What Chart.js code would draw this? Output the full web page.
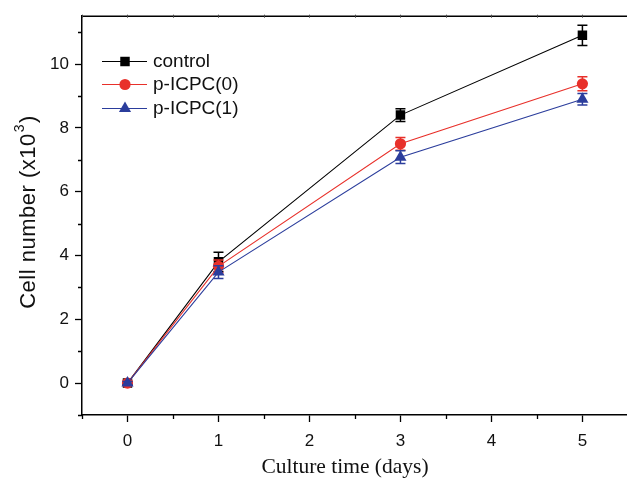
<!DOCTYPE html>
<html>
<head>
<meta charset="utf-8">
<script src="https://cdn.jsdelivr.net/npm/chart.js@4/dist/chart.umd.min.js"></script>
<style>
html,body{margin:0;padding:0;background:#fff;}
#wrap{width:627px;height:479px;position:relative;}
</style>
</head>
<body>
<div id="wrap"><canvas id="c" width="627" height="479"></canvas></div>
<script>
// ---- data ----
const days = [0, 1, 3, 5];
const controlVals = [0, 3.8, 8.4, 10.9];
const controlErr  = [0.05, 0.3, 0.2, 0.32];
const icpc0Vals   = [0, 3.66, 7.5, 9.38];
const icpc0Err    = [0.05, 0.2, 0.2, 0.22];
const icpc1Vals   = [0, 3.48, 7.08, 8.9];
const icpc1Err    = [0.05, 0.2, 0.2, 0.18];
const seriesNames = ['control', 'p-ICPC(0)', 'p-ICPC(1)'];
const xMajorTicks = [0, 1, 2, 3, 4, 5];
const xMinorTicks = [-0.5, 0.5, 1.5, 2.5, 3.5, 4.5, 5.5];
const yMajorTicks = [0, 2, 4, 6, 8, 10];
const yMinorTicks = [-1, 1, 3, 5, 7, 9, 11];
const xTitle = 'Culture time (days)';
const yTitleMain = 'Cell number (x10';
const yTitleSup = '3';
const yTitleEnd = ')';

const colors = ['#000000', '#e8302a', '#2b3d9c'];
const styles = ['rect', 'circle', 'triangle'];
const radii = [6.7, 5.6, 7];
const allVals = [controlVals, icpc0Vals, icpc1Vals];
const allErr = [controlErr, icpc0Err, icpc1Err];

const datasets = allVals.map((vals, i) => ({
  label: seriesNames[i],
  data: days.map((d, k) => ({x: d, y: vals[k]})),
  errors: allErr[i],
  borderColor: colors[i],
  backgroundColor: colors[i],
  borderWidth: 1.1,
  pointStyle: styles[i],
  pointRadius: radii[i],
  pointBorderWidth: 0,
  pointBackgroundColor: colors[i],
  order: 3 - i,
  tension: 0
}));

function drawMarker(ctx, style, x, y, r, color) {
  ctx.save();
  ctx.fillStyle = color;
  ctx.beginPath();
  if (style === 'rect') {
    const s = Math.SQRT1_2 * r;
    ctx.rect(x - s, y - s, 2 * s, 2 * s);
  } else if (style === 'circle') {
    ctx.arc(x, y, r, 0, Math.PI * 2);
  } else {
    ctx.moveTo(x, y - r);
    ctx.lineTo(x + r * Math.sin(Math.PI * 2 / 3), y - r * Math.cos(Math.PI * 2 / 3));
    ctx.lineTo(x - r * Math.sin(Math.PI * 2 / 3), y - r * Math.cos(Math.PI * 2 / 3));
    ctx.closePath();
  }
  ctx.fill();
  ctx.restore();
}

const extras = {
  id: 'extras',
  afterDatasetDraw(chart, args) {
    const ds = chart.data.datasets[args.index];
    const xs = chart.scales.x, ys = chart.scales.y;
    const ctx = chart.ctx;
    ctx.save();
    ctx.strokeStyle = ds.borderColor;
    ctx.lineWidth = 1.5;
    ds.data.forEach((p, k) => {
      const e = ds.errors[k];
      const px = xs.getPixelForValue(p.x);
      const top = ys.getPixelForValue(p.y + e);
      const bot = ys.getPixelForValue(p.y - e);
      ctx.beginPath();
      ctx.moveTo(px, top); ctx.lineTo(px, bot);
      ctx.moveTo(px - 5, top); ctx.lineTo(px + 5, top);
      ctx.moveTo(px - 5, bot); ctx.lineTo(px + 5, bot);
      ctx.stroke();
    });
    ctx.restore();
  },
  afterDraw(chart) {
    const ctx = chart.ctx;
    const a = chart.chartArea;
    const xs = chart.scales.x, ys = chart.scales.y;
    ctx.save();
    ctx.strokeStyle = '#000';
    ctx.lineWidth = 1.5;
    ctx.beginPath();
    ctx.moveTo(a.left, a.top); ctx.lineTo(a.right + 2, a.top);
    ctx.stroke();
    ctx.lineWidth = 1;
    ctx.strokeStyle = '#444';
    ctx.beginPath();
    xMajorTicks.concat(xMinorTicks).forEach(v => {
      const px = Math.round(xs.getPixelForValue(v)) + 0.5;
      ctx.moveTo(px, a.top - 1.5); ctx.lineTo(px, a.top + 1.5);
    });
    ctx.stroke();
    ctx.strokeStyle = '#000';
    ctx.lineWidth = 1.3;
    ctx.beginPath();
    xMinorTicks.forEach(v => {
      const px = Math.round(xs.getPixelForValue(v)) + 0.5;
      ctx.moveTo(px, a.bottom); ctx.lineTo(px, a.bottom + 4);
    });
    yMinorTicks.forEach(v => {
      const py = Math.round(ys.getPixelForValue(v)) + 0.5;
      ctx.moveTo(a.left, py); ctx.lineTo(a.left - 4, py);
    });
    ctx.stroke();
    // legend
    const lx0 = 102, lx1 = 147, mx = 125, tx = 153;
    const rows = [61, 84, 108];
    ctx.font = '19px "Liberation Sans", Arial, sans-serif';
    ctx.textBaseline = 'middle';
    ctx.textAlign = 'left';
    seriesNames.forEach((n, i) => {
      const y = rows[i];
      ctx.strokeStyle = colors[i];
      ctx.lineWidth = 1.2;
      ctx.beginPath();
      ctx.moveTo(lx0, y + 0.5); ctx.lineTo(lx1, y + 0.5);
      ctx.stroke();
      drawMarker(ctx, styles[i], mx, y + 0.5, radii[i], colors[i]);
      ctx.fillStyle = '#111';
      ctx.fillText(n, tx, y + 1);
    });
    // x title
    ctx.fillStyle = '#111';
    ctx.font = '21.5px "Liberation Serif", "Times New Roman", serif';
    ctx.textAlign = 'center';
    ctx.textBaseline = 'middle';
    ctx.fillText(xTitle, 345, 467);
    // y title with superscript
    ctx.save();
    ctx.translate(28, 212);
    ctx.rotate(-Math.PI / 2);
    const mainFont = '22px "Liberation Sans", Arial, sans-serif';
    const supFont = '14px "Liberation Sans", Arial, sans-serif';
    ctx.letterSpacing = '0.5px';
    ctx.font = mainFont;
    const w1 = ctx.measureText(yTitleMain).width;
    const w3 = ctx.measureText(yTitleEnd).width;
    ctx.font = supFont;
    const w2 = ctx.measureText(yTitleSup).width;
    const total = w1 + w2 + w3 + 2;
    let x = -total / 2;
    ctx.textAlign = 'left';
    ctx.textBaseline = 'middle';
    ctx.font = mainFont;
    ctx.fillText(yTitleMain, x, 1);
    x += w1 + 1;
    ctx.font = supFont;
    ctx.fillText(yTitleSup, x, -8);
    x += w2 + 1;
    ctx.font = mainFont;
    ctx.fillText(yTitleEnd, x, 1);
    ctx.restore();
    ctx.restore();
  }
};

new Chart(document.getElementById('c'), {
  type: 'line',
  data: { datasets },
  plugins: [extras],
  options: {
    responsive: false,
    animation: false,
    layout: { autoPadding: false, padding: { top: 15, right: 0, left: 0, bottom: 0 } },
    plugins: { legend: { display: false }, tooltip: { enabled: false } },
    scales: {
      x: {
        type: 'linear',
        min: -0.5, max: 5.49,
        afterBuildTicks: s => { s.ticks = xMajorTicks.map(v => ({value: v})); },
        afterFit: s => { s.height = 64; },
        grid: { drawOnChartArea: false, tickLength: 7, tickWidth: 1.3, tickColor: '#000' },
        border: { display: true, color: '#000', width: 1.5 },
        ticks: { color: '#111', font: { size: 17, family: '"Liberation Sans", Arial, sans-serif' }, padding: 9, maxRotation: 0 },
        title: { display: false }
      },
      y: {
        type: 'linear',
        min: -1, max: 11.5,
        afterBuildTicks: s => { s.ticks = yMajorTicks.map(v => ({value: v})); },
        afterFit: s => { s.width = 82; },
        grid: { drawOnChartArea: false, tickLength: 7, tickWidth: 1.3, tickColor: '#000' },
        border: { display: true, color: '#000', width: 1.5 },
        ticks: { color: '#111', font: { size: 17, family: '"Liberation Sans", Arial, sans-serif' }, padding: 6 },
        title: { display: false }
      }
    }
  }
});
</script>
</body>
</html>
